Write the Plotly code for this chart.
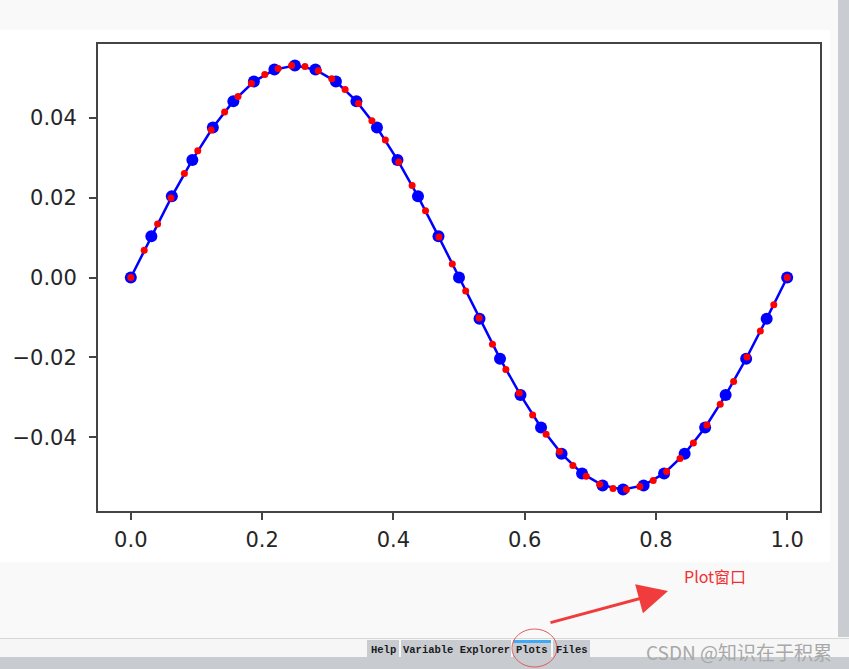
import plotly.graph_objects as go

W, H = 849, 669

# coarse samples (blue line + dots)
x_coarse = [0.0, 0.03125, 0.0625, 0.09375, 0.125, 0.15625, 0.1875, 0.21875, 0.25,
            0.28125, 0.3125, 0.34375, 0.375, 0.40625, 0.4375, 0.46875, 0.5,
            0.53125, 0.5625, 0.59375, 0.625, 0.65625, 0.6875, 0.71875, 0.75,
            0.78125, 0.8125, 0.84375, 0.875, 0.90625, 0.9375, 0.96875, 1.0]
y_coarse = [0.0, 0.0103, 0.0203, 0.0294, 0.0375, 0.0441, 0.0490, 0.0520, 0.0530,
            0.0520, 0.0490, 0.0441, 0.0375, 0.0294, 0.0203, 0.0103, 0.0,
            -0.0103, -0.0203, -0.0294, -0.0375, -0.0441, -0.0490, -0.0520, -0.0530,
            -0.0520, -0.0490, -0.0441, -0.0375, -0.0294, -0.0203, -0.0103, 0.0]

# fine samples (red dots)
x_fine = [0.0, 0.0204, 0.0408, 0.0612, 0.0816, 0.1020, 0.1224, 0.1429, 0.1633, 0.1837,
          0.2041, 0.2245, 0.2449, 0.2653, 0.2857, 0.3061, 0.3265, 0.3469, 0.3673, 0.3878,
          0.4082, 0.4286, 0.4490, 0.4694, 0.4898, 0.5102, 0.5306, 0.5510, 0.5714, 0.5918,
          0.6122, 0.6327, 0.6531, 0.6735, 0.6939, 0.7143, 0.7347, 0.7551, 0.7755, 0.7959,
          0.8163, 0.8367, 0.8571, 0.8776, 0.8980, 0.9184, 0.9388, 0.9592, 0.9796, 1.0]
y_fine = [0.0, 0.0068, 0.0134, 0.0199, 0.0260, 0.0317, 0.0369, 0.0414, 0.0453, 0.0485,
          0.0508, 0.0523, 0.0530, 0.0528, 0.0517, 0.0497, 0.0470, 0.0435, 0.0392, 0.0344,
          0.0289, 0.0230, 0.0167, 0.0101, 0.0034, -0.0034, -0.0101, -0.0167, -0.0230, -0.0289,
          -0.0344, -0.0392, -0.0435, -0.0470, -0.0497, -0.0517, -0.0528, -0.0530, -0.0523, -0.0508,
          -0.0485, -0.0453, -0.0414, -0.0369, -0.0317, -0.0260, -0.0199, -0.0134, -0.0068, 0.0]

x_ticks = [0.0, 0.2, 0.4, 0.6, 0.8, 1.0]
y_ticks = [-0.04, -0.02, 0.0, 0.02, 0.04]

tabs = ["Help", "Variable Explorer", "Plots", "Files"]
tab_edges = [(367, 399), (401, 511), (513, 551), (553, 590)]


def px(x):
    return x / W


def py(y):
    return 1 - y / H


fig = go.Figure()

fig.add_trace(go.Scatter(x=x_coarse, y=y_coarse, mode='lines+markers',
                         line=dict(color='#0000ff', width=2.5),
                         marker=dict(color='#0000ff', size=12), showlegend=False))
fig.add_trace(go.Scatter(x=x_fine, y=y_fine, mode='markers',
                         marker=dict(color='#ff0000', size=7), showlegend=False))

axis_common = dict(showline=True, mirror=True, linecolor='#444444', linewidth=2,
                   showgrid=False, zeroline=False, ticks='outside', ticklen=7,
                   tickwidth=1.5, tickcolor='#444444',
                   tickfont=dict(family='DejaVu Sans', size=21, color='#262626'))

fig.update_xaxes(range=[-0.05, 1.05], domain=[px(98), px(820)], tickvals=x_ticks,
                 tickformat='.1f', ticklabelstandoff=2, **axis_common)
fig.update_yaxes(range=[-0.0584, 0.0584], domain=[py(511), py(44)], tickvals=y_ticks,
                 tickformat='.2f', ticklabelstandoff=8, **axis_common)

shapes = [
    # white figure panel
    dict(type='rect', xref='paper', yref='paper', x0=0, x1=px(830), y0=py(562), y1=py(30),
         fillcolor='#ffffff', line=dict(width=0), layer='below'),
    # right scrollbar strip
    dict(type='rect', xref='paper', yref='paper', x0=px(838), x1=1, y0=py(637), y1=1,
         fillcolor='#c9cdd1', line=dict(width=0), layer='below'),
    # bottom separator + tab strip
    dict(type='rect', xref='paper', yref='paper', x0=0, x1=1, y0=py(657), y1=py(639),
         fillcolor='#f6f6f6', line=dict(width=0), layer='below'),
    dict(type='line', xref='paper', yref='paper', x0=0, x1=1, y0=py(638.5), y1=py(638.5),
         line=dict(color='#d6d6d6', width=1), layer='below'),
    dict(type='rect', xref='paper', yref='paper', x0=0, x1=1, y0=0, y1=py(657),
         fillcolor='#c8ccd0', line=dict(width=0), layer='below'),
]
for (a, b) in tab_edges:
    shapes.append(dict(type='rect', xref='paper', yref='paper', x0=px(a), x1=px(b),
                       y0=py(657), y1=py(640), fillcolor='#c8ccd0',
                       line=dict(width=0), layer='below'))
# active tab marker
shapes.append(dict(type='rect', xref='paper', yref='paper', x0=px(513), x1=px(551),
                   y0=py(643), y1=py(640), fillcolor='#3fa9f5', line=dict(width=0)))
# red ellipse around "Plots"
shapes.append(dict(type='circle', xref='paper', yref='paper', x0=px(512), x1=px(557),
                   y0=py(667), y1=py(629), line=dict(color='#e85a5a', width=1)))

annotations = []
for name, (a, b) in zip(tabs, tab_edges):
    annotations.append(dict(xref='paper', yref='paper', x=px((a + b) / 2), y=py(650),
                            text='<b>' + name + '</b>', showarrow=False,
                            xanchor='center', yanchor='middle',
                            font=dict(family='Liberation Mono', size=10.5, color='#1a1a1a')))
annotations.append(dict(xref='paper', yref='paper', x=px(715), y=py(576), text='Plot窗口',
                        showarrow=False, xanchor='center', yanchor='middle',
                        font=dict(family='Noto Sans CJK SC', size=16, color='#f03030')))
annotations.append(dict(xref='paper', yref='paper', x=px(668), y=py(591), text='',
                        showarrow=True, ax=-119, ay=32, axref='pixel', ayref='pixel',
                        arrowhead=2, arrowsize=2, arrowwidth=3, arrowcolor='#f03c3c'))
annotations.append(dict(xref='paper', yref='paper', x=px(834), y=py(651),
                        text='CSDN @知识在于积累', showarrow=False,
                        xanchor='right', yanchor='middle',
                        font=dict(family='Noto Sans CJK SC', size=19, color='#a8a8a8')))

fig.update_layout(width=W, height=H, margin=dict(l=0, r=0, t=0, b=0),
                  paper_bgcolor='#f9f9f9', plot_bgcolor='#ffffff',
                  shapes=shapes, annotations=annotations, showlegend=False)

fig.write_html("out.html", config={'displayModeBar': False},
               post_script="document.body.style.margin='0px';")
